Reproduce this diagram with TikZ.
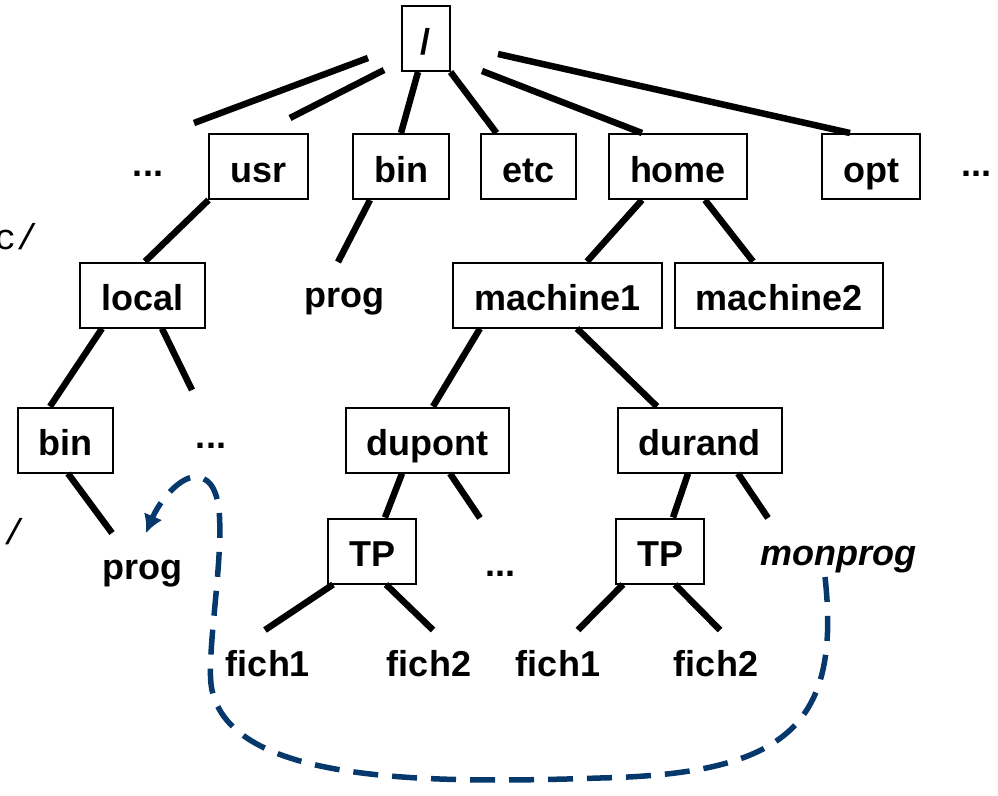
\documentclass[tikz,border=0pt]{standalone}
\usepackage{fontspec}
\setmainfont{Liberation Sans}
\newfontfamily\fragfont{Liberation Mono}
\usetikzlibrary{arrows.meta,calc}
\definecolor{linkblue}{RGB}{6,56,108}
\begin{document}
\begin{tikzpicture}[x=1pt,y=-1pt,
  every node/.style={font=\fontsize{36}{43}\selectfont\bfseries},
  dir/.style={draw,line width=2pt,minimum height=65pt,inner xsep=21pt,text height=33pt,text depth=2pt},
  leaf/.style={anchor=base,inner sep=0pt},
  edge/.style={line width=6.5pt},
  link/.style={linkblue,line width=5.5pt,dash pattern=on 25pt off 14pt,-{Latex[length=18pt,width=20pt]}}]
\useasboundingbox (0,0) rectangle (998,795);
\node[leaf,anchor=base east,font=\fragfont\fontsize{36}{43}\selectfont] (fragA) at (38,249) {c/};
\node[leaf,anchor=base east,font=\fragfont\fontsize{36}{43}\selectfont] (fragB) at (25,544) {/};
\node[dir,inner xsep=19pt] (root) at (425.5,38.5) {/};
\node[dir] (usr) at (258.5,166.5) {usr};
\node[dir] (bin) at (401,166.5) {bin};
\node[dir] (etc) at (528.5,166.5) {etc};
\node[dir] (home) at (678,166.5) {home};
\node[dir] (opt) at (871,166.5) {opt};
\node[leaf] (dotsL) at (148,176) {...};
\node[leaf] (dotsR) at (976,176) {...};
\node[dir] (local) at (142.5,295) {local};
\node[leaf] (prog) at (344,307) {prog};
\node[dir] (machine1) at (557.5,295) {machine1};
\node[dir] (machine2) at (779,295) {machine2};
\node[dir] (bin2) at (65.5,440) {bin};
\node[leaf] (dots2) at (211,448) {...};
\node[dir] (dupont) at (427.5,440) {dupont};
\node[dir] (durand) at (699.5,440) {durand};
\node[leaf] (prog2) at (142,579) {prog};
\node[dir] (tp1) at (372,551) {TP};
\node[leaf] (dots3) at (500,576) {...};
\node[dir] (tp2) at (660,551) {TP};
\node[leaf,font=\fontsize{36}{43}\selectfont\bfseries\itshape] (monprog) at (838,565) {monprog};
\node[leaf] (fich1a) at (268,676) {fich1};
\node[leaf] (fich2a) at (429,676) {fich2};
\node[leaf] (fich1b) at (558,676) {fich1};
\node[leaf] (fich2b) at (716,676) {fich2};
\draw[edge] ($(root)+(-57.5,19.5)$) -- ($(dotsL.base)+(46,-53)$);
\draw[edge] ($(root)+(-41.5,31.5)$) -- ($(usr)+(31.5,-48.5)$);
\draw[edge] ($(root.south)+(-7.5,0)$) -- (bin.north);
\draw[edge] (root.south east) -- ($(etc.north west)+(16,0)$);
\draw[edge] ($(root)+(56.5,32.5)$) -- ($(home.north)+(-36,0)$);
\draw[edge] ($(root)+(72.5,15.5)$) -- ($(opt.north)+(-21,0)$);
\draw[edge] (usr.south west) -- ($(local.north)+(2.5,0)$);
\draw[edge] ($(bin.south)+(-31,0)$) -- ($(prog.base)+(-6,-45)$);
\draw[edge] ($(home.south)+(-36,0)$) -- ($(machine1.north)+(29.5,0)$);
\draw[edge] ($(home.south)+(27,0)$) -- ($(machine2.north)+(-26,0)$);
\draw[edge] ($(local.south)+(-40.5,0)$) -- ($(bin2.north)+(-15.5,0)$);
\draw[edge] ($(local.south)+(19.5,0)$) -- ($(dots2.base)+(-19,-58)$);
\draw[edge] ($(machine1.south)+(-77.5,0)$) -- ($(dupont.north)+(5.5,0)$);
\draw[edge] ($(machine1.south)+(19.5,0)$) -- ($(durand.north)+(-42.5,0)$);
\draw[edge] ($(bin2.south)+(2.5,0)$) -- ($(prog2.base)+(-30,-46)$);
\draw[edge] ($(dupont.south)+(-25.5,0)$) -- ($(tp1.north)+(13,0)$);
\draw[edge] ($(dupont.south)+(22.5,0)$) -- ($(dots3.base)+(-20,-58)$);
\draw[edge] ($(durand.south)+(-11.5,0)$) -- ($(tp2.north)+(13,0)$);
\draw[edge] ($(durand.south)+(38.5,0)$) -- ($(monprog.base)+(-70,-47)$);
\draw[edge] ($(tp1.south)+(-39,0)$) -- ($(fich1a.base)+(-3,-46)$);
\draw[edge] ($(tp1.south)+(14,0)$) -- ($(fich2a.base)+(4,-46)$);
\draw[edge] ($(tp2.south)+(-37,0)$) -- ($(fich1b.base)+(20,-46)$);
\draw[edge] ($(tp2.south)+(15,0)$) -- ($(fich2b.base)+(4,-46)$);
\draw[link] ($(monprog.base)+(-13,12)$) .. controls (842,730) and (780,774) .. (600,778)
  .. controls (420,784) and (232,782) .. (212,690)
  .. controls (205,660) and (224,560) .. (219,510)
  .. controls (216,485) and (207,477) .. (195,477)
  .. controls (180,477) and (160,500) .. ($(prog2.base)+(4,-46)$);
\end{tikzpicture}
\end{document}
